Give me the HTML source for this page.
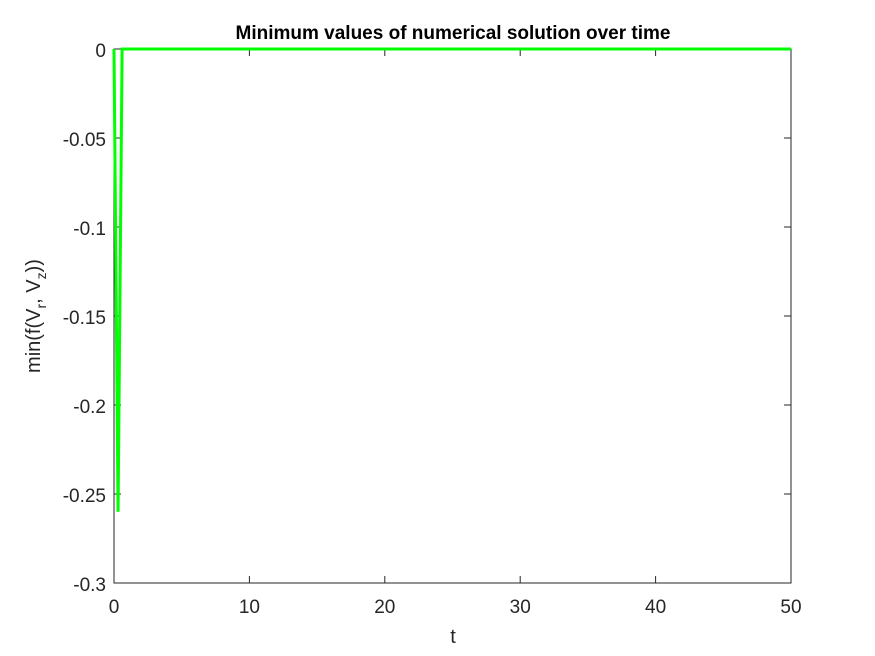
<!DOCTYPE html>
<html><head><meta charset="utf-8"><style>
body{margin:0;background:#fff;}
svg{display:block;font-family:"Liberation Sans",Arial,sans-serif;}
</style></head><body>
<svg id="chart" width="875" height="656">
<rect width="875" height="656" fill="#fff"/>
<g id="axes"></g>
<text x="453" y="39" text-anchor="middle" font-size="19" font-weight="bold" fill="#000">Minimum values of numerical solution over time</text>
<text x="453" y="643" text-anchor="middle" font-size="20" fill="#262626">t</text>
<text transform="translate(40,316) rotate(-90)" text-anchor="middle" font-size="20" fill="#262626">min(f(V<tspan font-size="14" dy="6">r</tspan><tspan dy="-6">, V</tspan><tspan font-size="14" dy="6">z</tspan><tspan dy="-6">))</tspan></text>
</svg>
<script>
const tValues=[0,0.3,0.6,50];
const minValues=[0,-0.26,0,0];
const xTicks=[0,10,20,30,40,50];
const yTicks=[0,-0.05,-0.1,-0.15,-0.2,-0.25,-0.3];
const yTickLabels=["0","-0.05","-0.1","-0.15","-0.2","-0.25","-0.3"];
const L=114,R=791,T=49,B=583;
const x=v=>L+(v-0)/(50-0)*(R-L);
const y=v=>T+(0-v)/(0-(-0.3))*(B-T);
const NS="http://www.w3.org/2000/svg";
const g=document.getElementById('axes');
function mk(tag,attrs){const e=document.createElementNS(NS,tag);for(const k in attrs)e.setAttribute(k,attrs[k]);g.appendChild(e);return e;}
const box=mk('rect',{x:L,y:T,width:R-L,height:B-T,fill:'none',stroke:'#262626','stroke-width':1});


xTicks.forEach(v=>{
 const l=mk('line',{x1:x(v),x2:x(v),y1:B,y2:B-7,stroke:'#262626'});
 
 
 const l2=mk('line',{x1:x(v),x2:x(v),y1:T,y2:T+7,stroke:'#262626'});
 
 
 const t=mk('text',{x:x(v),y:B+30,'text-anchor':'middle','font-size':19,fill:'#262626'});
 t.textContent=v;
 
 
});
yTicks.forEach((v,i)=>{
 const l=mk('line',{x1:L,x2:L+7,y1:y(v),y2:y(v),stroke:'#262626'});
 
 
 const l2=mk('line',{x1:R,x2:R-7,y1:y(v),y2:y(v),stroke:'#262626'});
 
 
 const t=mk('text',{x:L-8,y:y(v)+8,'text-anchor':'end','font-size':19,fill:'#262626'});
 t.textContent=yTickLabels[i];
 
 
});
const pts=tValues.map((t,i)=>x(t)+','+y(minValues[i])).join(' ');
const line=mk('polyline',{points:pts,fill:'none',stroke:'#00ff00','stroke-width':3,'stroke-linejoin':'miter'});


</script>
</body></html>
